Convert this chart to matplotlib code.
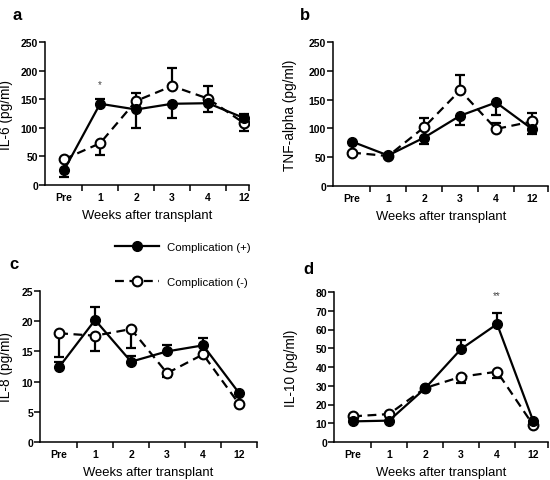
import matplotlib
matplotlib.use("Agg")
import matplotlib.pyplot as plt
from matplotlib.lines import Line2D

plt.rcParams['font.family'] = ['Liberation Sans', 'DejaVu Sans']

weeks = ['Pre', '1', '2', '3', '4', '12']

# values; err: + means bar drawn up, - means drawn down
il6_pos = [26, 142, 132, 142, 143, 117]
il6_pos_err = [-12, 9, -33, -24, -15, 8]
il6_neg = [45, 73, 147, 173, 151, 108]
il6_neg_err = [0, -21, 14, 32, 22, -14]

tnf_pos = [77, 53, 84, 122, 145, 99]
tnf_pos_err = [0, 0, -11, -16, -21, -9]
tnf_neg = [58, 52, 102, 166, 99, 112]
tnf_neg_err = [0, 0, 16, 27, 10, 14]

il8_pos = [12.4, 20.2, 13.3, 15.0, 16.0, 8.1]
il8_pos_err = [0.9, 2.1, 1.0, 1.1, 1.2, 0]
il8_neg = [18.0, 17.6, 18.7, 11.4, 14.5, 6.3]
il8_neg_err = [-3.9, -2.6, -3.2, -0.7, 0, 0]

il10_pos = [11.0, 11.4, 28.6, 49.6, 62.9, 11.4]
il10_pos_err = [0, 0, 0, 4.8, 6.1, 0]
il10_neg = [13.7, 14.9, 28.8, 34.8, 37.5, 9.1]
il10_neg_err = [0, 0, 0, -3.2, -3.5, 0]

W, H = 550, 481
fig = plt.figure(figsize=(5.5, 4.81), dpi=100)

dash = (0, (4, 2.5))


def draw_err(ax, y, err):
    for i, (v, e) in enumerate(zip(y, err)):
        if e == 0:
            continue
        ax.plot([i, i], [v, v + e], color='black', lw=1.6, zorder=2, solid_capstyle='butt')
        ax.plot([i], [v + e], marker='_', ms=7, mew=1.6, color='black', zorder=2)


def panel(left, bottom, top, xright, pos, pos_err, neg, neg_err, ymax, ystep, ylabel,
          letter, letter_xy, ylab_x):
    width = (xright + 0.53) * 36
    ax = fig.add_axes([left / W, 1 - bottom / H, width / W, (bottom - top) / H])
    x = list(range(len(weeks)))
    draw_err(ax, pos, pos_err)
    draw_err(ax, neg, neg_err)
    ax.plot(x, neg, color='black', lw=1.6, ls=dash, marker='o', ms=7,
            mfc='white', mec='black', mew=1.5, zorder=3)
    ax.plot(x, pos, color='black', lw=1.6, marker='o', ms=7,
            mfc='black', mec='black', zorder=4)
    ax.set_xlim(-0.53, xright)
    ax.set_ylim(0, ymax)
    ax.set_yticks(range(0, ymax + 1, ystep))
    ax.set_xticks(x)
    ax.set_xticklabels(weeks)
    ax.set_xticks([0.5, 1.5, 2.5, 3.5, 4.5, xright], minor=True)
    ax.tick_params(axis='x', which='major', length=0, pad=5)
    ax.tick_params(axis='x', which='minor', length=4, width=1.1)
    ax.tick_params(axis='y', length=4, width=1.1, pad=1)
    for lab in ax.get_xticklabels() + ax.get_yticklabels():
        lab.set_fontsize(7.5)
        lab.set_fontweight('bold')
    for s in ['top', 'right']:
        ax.spines[s].set_visible(False)
    for s in ['left', 'bottom']:
        ax.spines[s].set_linewidth(1.1)
    ax.set_xlabel('Weeks after transplant', fontsize=9.4, labelpad=5)
    ax.set_ylabel(ylabel, fontsize=9.8)
    ax.yaxis.set_label_coords((ylab_x - left) / width, 0.5)
    fig.text(letter_xy[0] / W, 1 - letter_xy[1] / H, letter, fontsize=12,
             fontweight='bold', ha='center', va='center')
    return ax


ax_a = panel(45, 186, 43, 5.14, il6_pos, il6_pos_err, il6_neg, il6_neg_err,
             250, 50, 'IL-6 (pg/ml)', 'a', (17, 15), 13)
ax_a.text(1, 176, '*', ha='center', va='center', fontsize=7, color='#444444')

ax_b = panel(333, 187, 43, 5.45, tnf_pos, tnf_pos_err, tnf_neg, tnf_neg_err,
             250, 50, 'TNF-alpha (pg/ml)', 'b', (305, 15), 297)

ax_c = panel(40, 443, 292, 5.5, il8_pos, il8_pos_err, il8_neg, il8_neg_err,
             25, 5, 'IL-8 (pg/ml)', 'c', (14, 265), 13)

ax_d = panel(334, 443, 293, 5.42, il10_pos, il10_pos_err, il10_neg, il10_neg_err,
             80, 10, 'IL-10 (pg/ml)', 'd', (308, 270), 298)
ax_d.text(4, 78.5, '**', ha='center', va='center', fontsize=7, color='#444444')

handles = [
    Line2D([], [], color='black', lw=1.6, marker='o', ms=7, mfc='black'),
    Line2D([], [], color='black', lw=1.6, ls=dash, marker='o', ms=7,
           mfc='white', mec='black', mew=1.5),
]
fig.legend(handles, ['Complication (+)', 'Complication (-)'],
           loc='upper left', bbox_to_anchor=(115 / W, 1 - 243 / H),
           frameon=False, fontsize=8.2, handlelength=3.9, handletextpad=0.7,
           labelspacing=2.2, borderpad=0, borderaxespad=0)

fig.savefig('out.png', dpi=100)
